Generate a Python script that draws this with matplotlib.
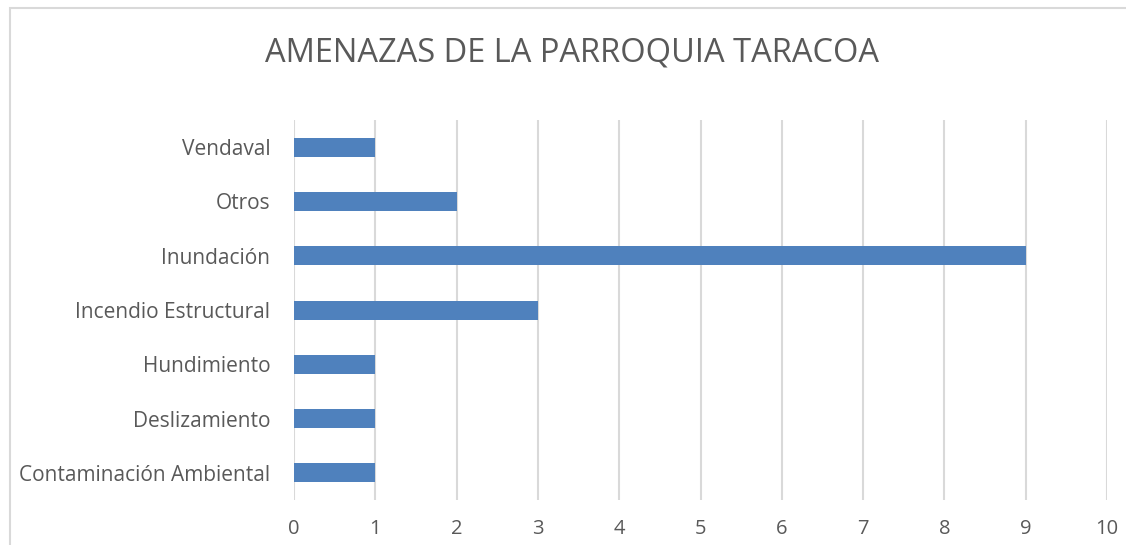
import matplotlib
matplotlib.use("Agg")
import matplotlib.pyplot as plt
from matplotlib.patches import Rectangle

categories = ["Contaminación Ambiental", "Deslizamiento", "Hundimiento",
              "Incendio Estructural", "Inundación", "Otros", "Vendaval"]
values = [1, 1, 1, 3, 9, 2, 1]
xticks = list(range(0, 11))
title = "AMENAZAS DE LA PARROQUIA TARACOA"

plt.rcParams['font.family'] = ['Open Sans', 'DejaVu Sans']
W, H = 1126, 545
fig = plt.figure(figsize=(W/100, H/100), dpi=100)
ax = fig.add_axes([294/W, 1-500/H, (1107-294)/W, (500-120)/H])

txt = "#595959"
ax.barh(range(len(categories)), values, height=0.35, color="#4F81BD", zorder=3)
ax.set_xlim(0, 10)
ax.set_ylim(-0.5, len(categories)-0.5)
ax.set_xticks(xticks)
ax.set_yticks(range(len(categories)))
ax.set_yticklabels(categories)
ax.grid(axis='x', color="#D9D9D9", linewidth=1.5, zorder=0)
for s in ax.spines.values():
    s.set_visible(False)
ax.tick_params(axis='both', length=0, colors=txt, labelsize=14.5)
ax.tick_params(axis='y', pad=17, labelsize=15)
ax.tick_params(axis='x', pad=14)

fig.text(572/W, 1-53/H, title, ha='center', va='center', fontsize=23.5, color=txt)

fig.patches.append(Rectangle((10/W, -0.1), 1.2, 1-8/H+0.1, transform=fig.transFigure,
                             fill=False, edgecolor="#D9D9D9", linewidth=1.5))

fig.savefig("out.png", dpi=100, facecolor="white")
